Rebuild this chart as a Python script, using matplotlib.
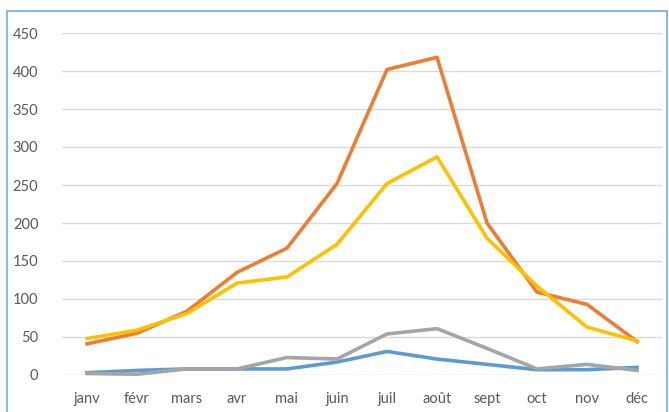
import matplotlib.pyplot as plt
from matplotlib.patches import Rectangle

months = ["janv", "févr", "mars", "avr", "mai", "juin",
          "juil", "août", "sept", "oct", "nov", "déc"]

# series, in Excel order (blue, orange, gray, yellow)
blue = [3, 6, 8, 8, 8, 17, 31, 21, 14, 7, 7, 10]
orange = [41, 55, 84, 135, 167, 252, 402, 418, 200, 109, 93, 44]
gray = [2, 1, 8, 8, 23, 21, 54, 61, 35, 8, 14, 6]
yellow = [48, 59, 81, 121, 129, 172, 252, 287, 180, 117, 63, 45]

yticks = list(range(0, 451, 50))

plt.rcParams['font.family'] = ['Lato', 'DejaVu Sans']

fig = plt.figure(figsize=(6.69, 4.12), dpi=100)
ax = fig.add_axes([62 / 669, 37 / 412, 600 / 669, 342 / 412])

x = list(range(len(months)))
for vals, col in [(blue, '#5B9BD5'), (orange, '#ED7D31'),
                  (gray, '#A5A5A5'), (yellow, '#FFC000')]:
    ax.plot(x, vals, color=col, lw=2.6, solid_joinstyle='round', clip_on=False)

ax.set_xlim(-0.5, len(months) - 0.5)
ax.set_ylim(0, 450)
ax.set_yticks(yticks)
ax.set_xticks(x)
ax.set_xticklabels(months)
ax.grid(axis='y', color='#D9D9D9', lw=1)
ax.set_axisbelow(True)
for s in ax.spines.values():
    s.set_visible(False)
ax.tick_params(length=0, labelsize=10.5, labelcolor='#595959')
ax.tick_params(axis='y', pad=17)
ax.tick_params(axis='x', pad=12)

# chart frame
fig.patches.append(Rectangle((7 / 669, -0.05), 660 / 669, 1.05 - 11 / 412,
                             transform=fig.transFigure, fill=False,
                             edgecolor='#8DB8E2', lw=1.5))

fig.savefig('out.png', dpi=100)
